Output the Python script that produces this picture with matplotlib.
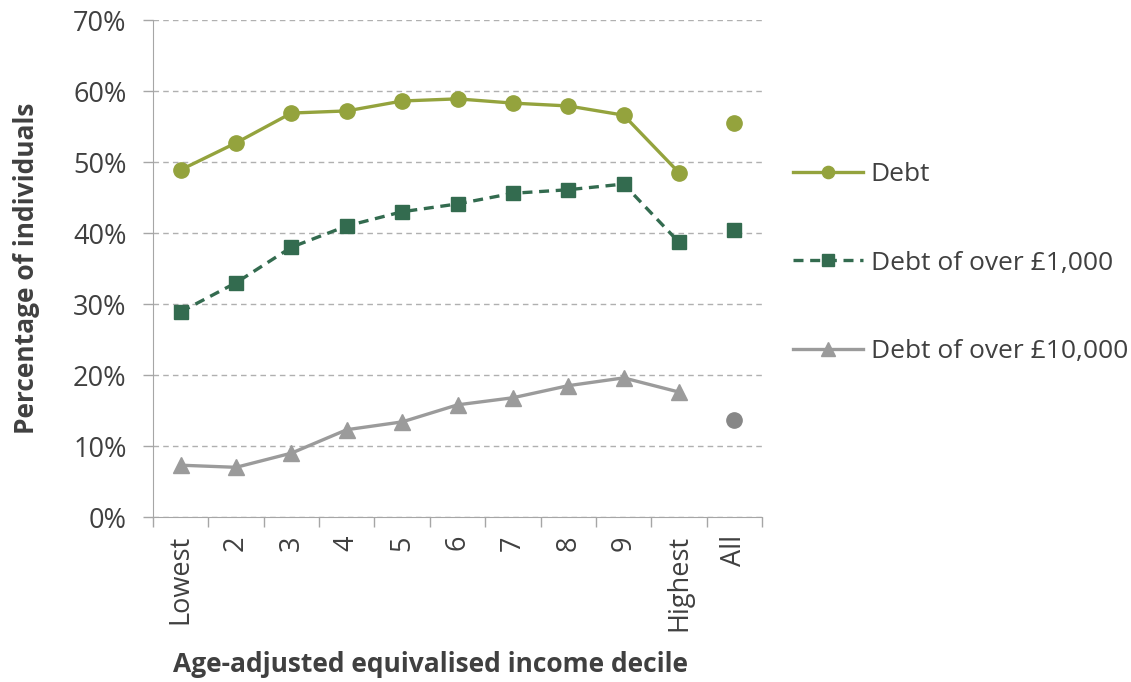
import numpy as np
import matplotlib.pyplot as plt
from matplotlib.ticker import FuncFormatter, FixedLocator

plt.rcParams['font.family'] = ['Open Sans', 'DejaVu Sans']

# Categories (income deciles + "All")
deciles = ['Lowest', '2', '3', '4', '5', '6', '7', '8', '9', 'Highest']
all_label = 'All'

# Share of individuals (%) by decile
debt = [48.9, 52.7, 56.9, 57.2, 58.6, 58.9, 58.3, 57.9, 56.6, 48.5]
debt_1k = [28.9, 33.0, 38.0, 41.0, 43.0, 44.1, 45.6, 46.1, 46.9, 38.7]
debt_10k = [7.3, 7.0, 9.0, 12.3, 13.4, 15.8, 16.8, 18.5, 19.6, 17.6]

# Values for all individuals
debt_all = 55.5
debt_1k_all = 40.4
debt_10k_all = 13.7

olive = '#94a33d'
dgreen = '#336b4f'
grey = '#9b9b9b'
grey_all = '#878787'
txt = '#404040'

fig = plt.figure(figsize=(11.31, 6.82), dpi=100)
ax = fig.add_axes([0.1353, 0.2419, 0.5385, 0.7287])

x = np.arange(len(deciles))
xa = len(deciles)

ax.plot(x, debt, color=olive, lw=2.4, marker='o', ms=11, label='Debt')
ax.plot(x, debt_1k, color=dgreen, lw=2.4, ls=(0, (3, 2)), marker='s', ms=10,
        label='Debt of over £1,000')
ax.plot(x, debt_10k, color=grey, lw=2.4, marker='^', ms=12,
        label='Debt of over £10,000')

ax.plot([xa], [debt_all], color=olive, marker='o', ms=11, ls='none')
ax.plot([xa], [debt_1k_all], color=dgreen, marker='s', ms=10, ls='none')
ax.plot([xa], [debt_10k_all], color=grey_all, marker='o', ms=11, ls='none')

ax.set_xlim(-0.5, xa + 0.5)
ax.set_ylim(0, 70)
ax.set_yticks(np.arange(0, 71, 10))
ax.yaxis.set_major_formatter(FuncFormatter(lambda v, p: '%d%%' % v))
ax.grid(axis='y', color='#b0b0b0', ls=(0, (4, 3)), lw=1)
ax.set_axisbelow(True)

ax.set_xticks(list(x) + [xa])
ax.set_xticklabels(deciles + [all_label], rotation=90)
ax.tick_params(axis='x', which='major', length=0, pad=13)
ax.xaxis.set_minor_locator(FixedLocator(np.arange(-0.5, xa + 1, 1)))
ax.tick_params(axis='x', which='minor', length=7, color='#a6a6a6', width=1)
ax.tick_params(axis='y', length=7, color='#a6a6a6', width=1, pad=12)
ax.tick_params(labelsize=19.5, labelcolor=txt)

for s in ['top', 'right']:
    ax.spines[s].set_visible(False)
for s in ['left', 'bottom']:
    ax.spines[s].set_color('#a6a6a6')

ax.set_ylabel('Percentage of individuals', fontsize=19, fontweight='bold',
              color=txt, labelpad=24)
ax.set_xlabel('Age-adjusted equivalised income decile', fontsize=19,
              fontweight='bold', color=txt, labelpad=14)
ax.xaxis.label.set_x(0.456)

fig.legend(loc='upper left', bbox_to_anchor=(0.701, 0.762), frameon=False,
           fontsize=19, labelspacing=2.4, handlelength=2.65,
           handletextpad=0.3, borderpad=0, borderaxespad=0,
           markerscale=0.8, labelcolor=txt)

fig.savefig('out.png', dpi=100)
